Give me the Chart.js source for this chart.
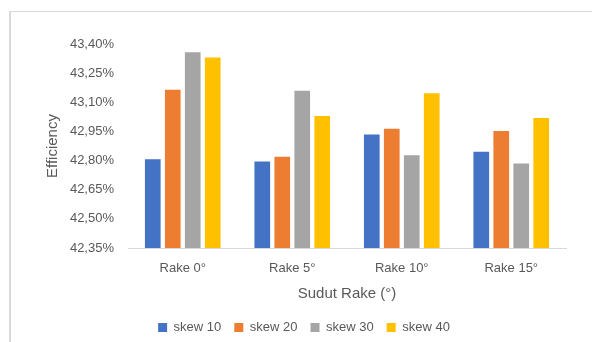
<!DOCTYPE html>
<html>
<head>
<meta charset="utf-8">
<script src="https://cdn.jsdelivr.net/npm/chart.js@4.4.0/dist/chart.umd.min.js"></script>
<style>
  body { margin: 0; background: #fff; }
  #wrap { position: relative; width: 592px; height: 342px; }
  #frame {
    position: absolute; left: 9px; top: 11px; width: 620px; height: 360px;
    border-left: 2px solid #d9d9d9; border-top: 1px solid #d9d9d9;
  }
  #myChart { position: absolute; left: 0; top: 0; }
</style>
</head>
<body>
<div id="wrap">
  <div id="frame"></div>
  <canvas id="myChart" width="592" height="342"></canvas>
</div>
<script>
const rakeNames = ['Rake 0°', 'Rake 5°', 'Rake 10°', 'Rake 15°'];
const skew10 = [42.807, 42.795, 42.934, 42.846];
const skew20 = [43.165, 42.820, 42.964, 42.952];
const skew30 = [43.358, 43.160, 42.827, 42.785];
const skew40 = [43.330, 43.030, 43.147, 43.019];
const yMin = 42.35;
const yMax = 43.40;
const yStep = 0.15;

const textColor = '#595959';
const fontFamily = '"Liberation Sans", Arial, sans-serif';

function pct(v) {
  return v.toFixed(2).replace('.', ',') + '%';
}

function series(label, data, color) {
  return {
    label: label,
    data: data,
    backgroundColor: color,
    borderWidth: 0,
    barPercentage: 0.785,
    categoryPercentage: 0.73
  };
}

const ctx = document.getElementById('myChart');
const chart = new Chart(ctx, {
  type: 'bar',
  data: {
    labels: rakeNames,
    datasets: [
      series('skew 10', skew10, '#4472C4'),
      series('skew 20', skew20, '#ED7D31'),
      series('skew 30', skew30, '#A5A5A5'),
      series('skew 40', skew40, '#FFC000')
    ]
  },
  options: {
    responsive: false,
    animation: false,
    layout: {
      padding: { left: 42, right: 26, top: 44, bottom: -2 }
    },
    plugins: {
      legend: {
        position: 'bottom',
        labels: {
          color: textColor,
          font: { family: fontFamily, size: 13 },
          boxWidth: 9,
          boxHeight: 9,
          padding: 13
        }
      },
      tooltip: { enabled: false }
    },
    scales: {
      x: {
        grid: { display: false, drawTicks: false },
        border: { display: true, color: '#d9d9d9', width: 1 },
        ticks: {
          color: textColor,
          font: { family: fontFamily, size: 13 },
          padding: 13
        },
        title: {
          display: true,
          text: 'Sudut Rake (°)',
          color: textColor,
          font: { family: fontFamily, size: 15 },
          padding: { top: 0, bottom: 5 }
        },
        afterFit: function (scale) { scale.height = 60; }
      },
      y: {
        min: yMin,
        max: yMax,
        grid: { display: false, drawTicks: false },
        border: { display: false },
        ticks: {
          stepSize: yStep,
          color: textColor,
          font: { family: fontFamily, size: 13 },
          padding: 14,
          callback: function (value) { return pct(value); }
        },
        title: {
          display: true,
          text: 'Efficiency',
          color: textColor,
          font: { family: fontFamily, size: 15 },
          padding: { top: 2, bottom: 0 }
        },
        afterFit: function (scale) { scale.width = 86; }
      }
    }
  }
});
</script>
</body>
</html>
